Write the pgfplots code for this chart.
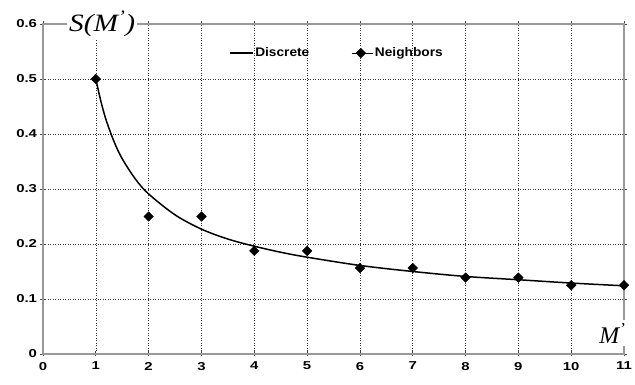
\documentclass[border=0pt]{standalone}
\usepackage{fontspec}
\setmainfont{Liberation Sans}
\newfontfamily\tnr{Liberation Serif}
\usepackage{graphicx}
\usepackage{pgfplots}
\pgfplotsset{compat=1.18}
\pgfplotsset{mylegmark/.style={legend image code/.code={\path (0cm,0cm) -- (0.75cm,0cm); \draw[##1] plot coordinates {(0.33cm,0cm)};}}}
\newcommand{\tl}[1]{\scalebox{1.3}[1]{#1}}
\begin{document}
\begin{tikzpicture}
\begin{axis}[
  scale only axis, width=581bp, height=330bp,
  xmin=0, xmax=11, ymin=0, ymax=0.6,
  xtick={0,...,11}, ytick={0,0.1,...,0.6},
  axis line style={draw=black!40, line width=1.1pt},
  tick style={black!70, line width=0.8pt},
  tick align=center, major tick length=5bp,
  grid=major,
  major grid style={black!80, dash pattern=on 1bp off 1.5bp, line width=0.6pt},
  /pgf/number format/assume math mode=true,
  ticklabel style={font=\bfseries\fontsize{11.5}{13}\selectfont},
  xticklabel={\tl{\pgfmathprintnumber{\tick}}},
  yticklabel={\tl{\pgfmathprintnumber[fixed,precision=1]{\tick}}},
  xticklabel style={yshift=-2bp},
  legend columns=2,
  legend style={at={(axis cs:5.57,0.547)}, anchor=center, draw=none, fill=none,
    font=\bfseries\fontsize{12.5}{14}\selectfont,
    /tikz/every even column/.append style={column sep=40bp}},
  legend image code/.code={\draw[mark repeat=2, mark phase=2, #1] plot coordinates {(0cm,0cm) (0.39cm,0cm) (0.78cm,0cm)};},
]
\addplot[black, line width=1.5pt, smooth, tension=0.55] coordinates {
(1,0.5) (1.1,0.458) (1.2,0.424) (1.35,0.385) (1.5,0.355) (1.75,0.318) (2,0.291)
(2.5,0.253) (3,0.227) (3.5,0.209) (4,0.196) (4.5,0.185) (5,0.176) (6,0.161)
(7,0.150) (8,0.141) (9,0.135) (10,0.129) (11,0.124)};
\addlegendentry{\scalebox{1.1}[1]{Discrete}}
\addplot[only marks, mark=square*, mark size=3.4bp, mark options={rotate=45, fill=black, draw=black}, mylegmark] coordinates {
(1,0.5) (2,0.25) (3,0.25) (4,0.1875) (5,0.1875) (6,0.15625) (7,0.15625)
(8,0.1389) (9,0.1389) (10,0.125) (11,0.125)};
\addlegendentry{\scalebox{1.1}[1]{Neighbors}}
\coordinate (sl) at (axis cs:1.12,0.6);
\coordinate (ml) at (axis cs:10.78,0.038);
\coordinate (SW) at (rel axis cs:0,0);
\coordinate (NE) at (rel axis cs:1,1);
\end{axis}
\node[fill=white, inner sep=2bp, font=\tnr\itshape\fontsize{25}{27}\selectfont] at (sl) {\scalebox{1.18}[1]{S(M\textsuperscript{’})}};
\node[fill=white, inner sep=3bp, font=\tnr\itshape\fontsize{24}{26}\selectfont] at (ml) {M\textsuperscript{’}};
\pgfresetboundingbox
\path[use as bounding box] ([shift={(-43bp,-31bp)}]SW) rectangle ([shift={(11bp,24bp)}]NE);
\end{tikzpicture}
\end{document}
